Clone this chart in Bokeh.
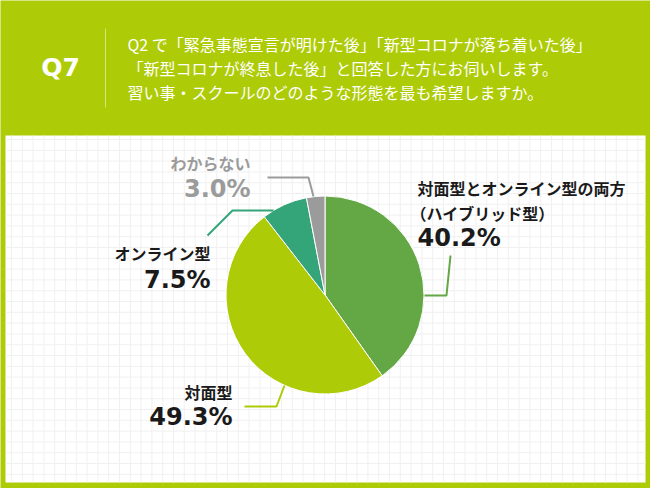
import math
import numpy as np
from bokeh.plotting import figure
from bokeh.models import Range1d
from bokeh.core.properties import value
from bokeh.embed import file_html
from bokeh.resources import INLINE

# ---------------- data ----------------
categories = ["対面型とオンライン型の両方（ハイブリッド型）", "対面型", "オンライン型", "わからない"]
label_lines = [["対面型とオンライン型の両方", "（ハイブリッド型）"], ["対面型"], ["オンライン型"], ["わからない"]]
values = [40.2, 49.3, 7.5, 3.0]
colors = ["#64A745", "#AECB07", "#33A578", "#9B9B9B"]
title_q = "Q7"
title_lines = [
    "Q2 で「緊急事態宣言が明けた後」「新型コロナが落ち着いた後」",
    "「新型コロナが終息した後」と回答した方にお伺いします。",
    "習い事・スクールのどのような形態を最も希望しますか。",
]

# ---------------- layout ----------------
W, H = 650, 488
GREEN = "#AECB07"
JP = value("Noto Sans CJK JP")
NUM = value("DejaVu Sans")


def Y(y):
    return H - y


p = figure(width=W, height=H, x_range=Range1d(0, W), y_range=Range1d(0, H),
           output_backend="svg", toolbar_location=None, min_border=0,
           x_axis_location=None, y_axis_location=None,
           background_fill_color=GREEN, border_fill_color=GREEN,
           outline_line_color=None)
p.xgrid.visible = False
p.ygrid.visible = False

# white panel
PL, PR, PT, PB = 5, 645, 135, 482
p.quad(left=[PL], right=[PR], top=[Y(PT)], bottom=[Y(PB)], fill_color="white", line_color=None)

# faint grid inside panel
gx = np.arange(PL + 6, PR, 10.8)
gy = np.arange(PT + 4, PB, 10.8)
p.segment(x0=gx, y0=[Y(PT)] * len(gx), x1=gx, y1=[Y(PB)] * len(gx), line_color="#F0F0F0", line_width=1)
p.segment(x0=[PL] * len(gy), y0=[Y(v) for v in gy], x1=[PR] * len(gy), y1=[Y(v) for v in gy],
          line_color="#F0F0F0", line_width=1)

# header
p.text(x=[60], y=[Y(67)], text=[title_q], text_font=NUM, text_font_style="bold",
       text_font_size="25px", text_color="white", text_align="center", text_baseline="middle")
p.line(x=[105, 105], y=[Y(28), Y(107)], line_color="#D6E67A", line_width=1)
p.text(x=[127] * 3, y=[Y(43), Y(67), Y(91)], text=title_lines, text_font=JP,
       text_font_size="16px", text_color="white", text_align="left", text_baseline="middle")

# pie
CX, CY, R = 324.5, Y(294.5), 99
total = sum(values)
cum = np.concatenate([[0], np.cumsum(values)]) / total
starts = [math.pi / 2 - 2 * math.pi * cum[i + 1] for i in range(len(values))]
ends = [math.pi / 2 - 2 * math.pi * cum[i] for i in range(len(values))]
p.wedge(x=[CX] * len(values), y=[CY] * len(values), radius=R, start_angle=starts, end_angle=ends,
        direction="anticlock", fill_color=colors, line_color="white", line_width=1)

# leader lines (screen coordinates)
leaders = [
    [(450, 255), (446, 295), (424, 295)],
    [(284, 385), (276, 406), (244, 406)],
    [(207, 235), (232, 210), (273, 210)],
    [(267, 177), (308, 177), (313, 196)],
]
p.multi_line(xs=[[pt[0] for pt in L] for L in leaders],
             ys=[[Y(pt[1]) for pt in L] for L in leaders],
             line_color=colors, line_width=2)

# labels
pct = [f"{v:.1f}%" for v in values]
label_cfg = [
    # label x's, align, label y's, pct x, pct y, text color
    ([417, 410], "left", [187, 212], 417, 237, "#1A1A1A"),
    ([232], "right", [391], 232, 416, "#1A1A1A"),
    ([210], "right", [252], 210, 279, "#1A1A1A"),
    ([250], "right", [162], 250, 188, "#9B9B9B"),
]
for i, (lxs, al, ys, px, py, col) in enumerate(label_cfg):
    p.text(x=lxs, y=[Y(v) for v in ys], text=label_lines[i], text_font=JP,
           text_font_style="bold", text_font_size="16px", text_color=col,
           text_align=al, text_baseline="middle")
    p.text(x=[px], y=[Y(py)], text=[pct[i]], text_font=NUM, text_font_style="bold",
           text_font_size="24px", text_color=col, text_align=al, text_baseline="middle")

open("out.html", "w").write(file_html(p, INLINE))
